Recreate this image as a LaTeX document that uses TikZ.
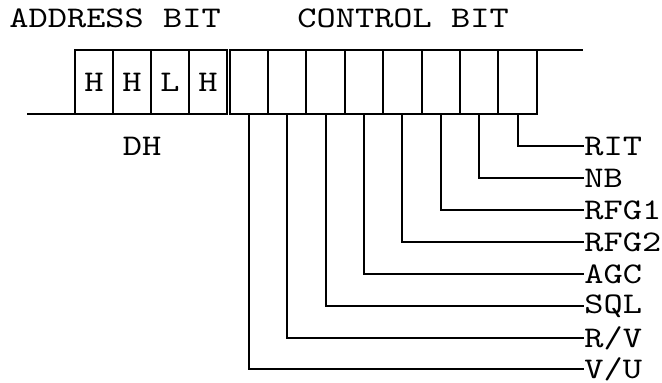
\documentclass[tikz,border=0pt]{standalone}
\usepackage{fontspec}
\newfontfamily\diagtt[FakeStretch=1.22]{lmmono10-regular.otf}
\usetikzlibrary{positioning}

\newcommand{\diagfont}{\diagtt\fontsize{15}{15}\selectfont}

\tikzset{
	cellbox/.style={draw,line width=1pt,minimum height=32pt,inner sep=0pt,outer sep=0pt,font=\diagfont},
	addrcell/.style={cellbox,minimum width=19pt},
	ctrlcell/.style={cellbox,minimum width=19.2pt},
	tag/.style={inner sep=0pt,font=\diagfont},
	wire/.style={line width=1pt}
}

\begin{document}
\begin{tikzpicture}[x=0.5pt,y=-0.5pt]
	\useasboundingbox (0,0) rectangle (662,382);

	% headings
	\node[tag,anchor=base west] (addr) at (9,27) {ADDRESS BIT};
	\node[tag,anchor=base west] (ctrl) at (297,27) {CONTROL BIT};

	% address bits
	\node[addrcell] (a1) at (94,82) {H};
	\node[addrcell] (a2) at (132,82) {H};
	\node[addrcell] (a3) at (170,82) {L};
	\node[addrcell] (a4) at (208,82) {H};
	\node[tag,anchor=base] (dh) at (142,155) {DH};

	% control bits
	\node[ctrlcell] (c1) at (248.7,82) {};
	\node[ctrlcell] (c2) at (287.1,82) {};
	\node[ctrlcell] (c3) at (325.5,82) {};
	\node[ctrlcell] (c4) at (363.9,82) {};
	\node[ctrlcell] (c5) at (402.3,82) {};
	\node[ctrlcell] (c6) at (440.7,82) {};
	\node[ctrlcell] (c7) at (479.1,82) {};
	\node[ctrlcell] (c8) at (517.5,82) {};

	\coordinate (baseleft) at (27,114);
	\coordinate (topright) at (583,50);
	\draw[wire] (baseleft) -- (a1.south west);
	\draw[wire] (c8.north east) -- (topright);

	% control outputs
	\node[tag,anchor=west] (rit) at (584,146) {RIT};
	\node[tag,anchor=west] (nb) at (584,178) {NB};
	\node[tag,anchor=west] (rfga) at (584,210) {RFG1};
	\node[tag,anchor=west] (rfgb) at (584,242) {RFG2};
	\node[tag,anchor=west] (agc) at (584,274) {AGC};
	\node[tag,anchor=west] (sql) at (584,306) {SQL};
	\node[tag,anchor=west] (rv) at (584,338) {R/V};
	\node[tag,anchor=west] (vu) at (584,369) {V/U};

	\draw[wire] (c8.south) |- (rit.west);
	\draw[wire] (c7.south) |- (nb.west);
	\draw[wire] (c6.south) |- (rfga.west);
	\draw[wire] (c5.south) |- (rfgb.west);
	\draw[wire] (c4.south) |- (agc.west);
	\draw[wire] (c3.south) |- (sql.west);
	\draw[wire] (c2.south) |- (rv.west);
	\draw[wire] (c1.south) |- (vu.west);

\end{tikzpicture}
\end{document}
